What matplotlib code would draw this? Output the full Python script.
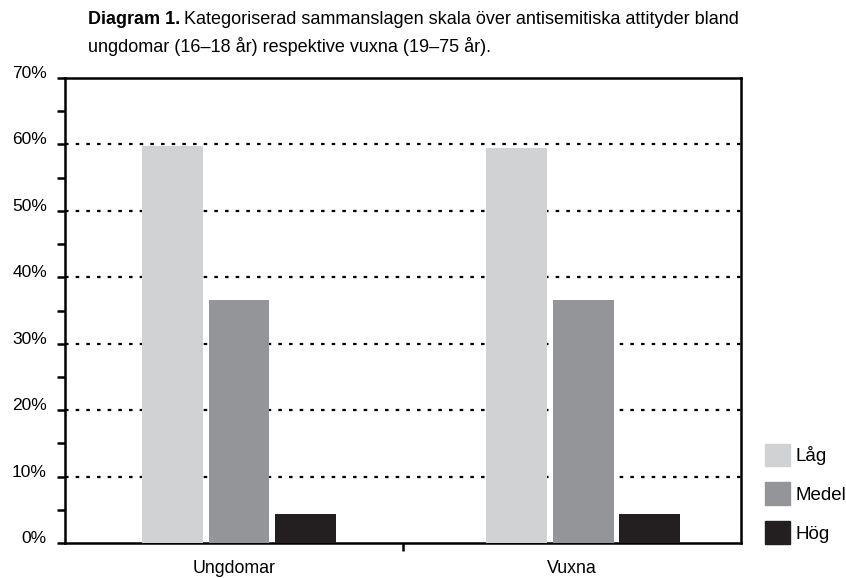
import matplotlib
matplotlib.use("Agg")
import matplotlib.pyplot as plt
from matplotlib.patches import Patch
from matplotlib.ticker import MultipleLocator, FixedLocator, NullFormatter

plt.rcParams['font.family'] = ['Liberation Sans', 'DejaVu Sans']

# data
groups = ["Ungdomar", "Vuxna"]
levels = ["Låg", "Medel", "Hög"]
lag = [59.7, 59.4]
medel = [36.6, 36.6]
hog = [4.4, 4.4]
colors = ["#d1d2d4", "#939598", "#231f20"]

fig = plt.figure(figsize=(8.46, 5.78), dpi=100)
ax = fig.add_axes([65 / 846, 1 - 543 / 578, 676 / 846, 465 / 578])

offsets = [-0.182, 0.015, 0.211]
width = 0.18
group_step = 1.018
for vals, off, col in zip([lag, medel, hog], offsets, colors):
    xs = [0.5 + i * group_step + off for i in range(len(groups))]
    ax.bar(xs, vals, width=width, color=col, zorder=3)

ax.set_xlim(0, 2)
ax.set_ylim(0, 70)

# dotted gridlines
for y in range(10, 70, 10):
    ax.axhline(y, color="black", lw=1.6, linestyle=(0, (1.6, 3.2)), zorder=1)

for s in ax.spines.values():
    s.set_linewidth(1.8)

ax.yaxis.set_major_locator(MultipleLocator(10))
ax.yaxis.set_minor_locator(MultipleLocator(5))
ax.set_yticklabels([f"{int(v)}%" for v in ax.get_yticks()])
ax.tick_params(axis="y", which="both", direction="out", length=6, width=1.8,
               labelsize=12.5, pad=7)
for lab in ax.get_yticklabels():
    lab.set_verticalalignment("baseline")

ax.xaxis.set_major_locator(FixedLocator([1]))
ax.xaxis.set_major_formatter(NullFormatter())
ax.xaxis.set_minor_locator(FixedLocator([0.5, 1.5]))
ax.set_xticklabels(groups, minor=True)
ax.tick_params(axis="x", which="major", direction="out", length=6, width=1.8)
ax.tick_params(axis="x", which="minor", length=0, labelsize=12.8, pad=12)

handles = [Patch(color=c, label=l) for c, l in zip(colors, levels)]
fig.legend(handles=handles, loc="lower left", bbox_to_anchor=(765 / 846, 1 - 544 / 578),
           frameon=False, borderpad=0, borderaxespad=0, fontsize=13.5,
           handlelength=1.33, handleheight=1.5, handletextpad=0.32, labelspacing=0.85)

# title: bold lead-in followed by regular text
fig.canvas.draw()
t1 = fig.text(88 / 846, 1 - 20 / 578, "Diagram 1.", fontsize=13, fontweight="bold", va="center")
bb = t1.get_window_extent(fig.canvas.get_renderer())
fig.text(bb.x1 / fig.bbox.width + 0.005, 1 - 20 / 578,
         "Kategoriserad sammanslagen skala över antisemitiska attityder bland",
         fontsize=13, va="center")
fig.text(88 / 846, 1 - 46 / 578, "ungdomar (16–18 år) respektive vuxna (19–75 år).",
         fontsize=13, va="center")

fig.savefig("out.png", dpi=100)
